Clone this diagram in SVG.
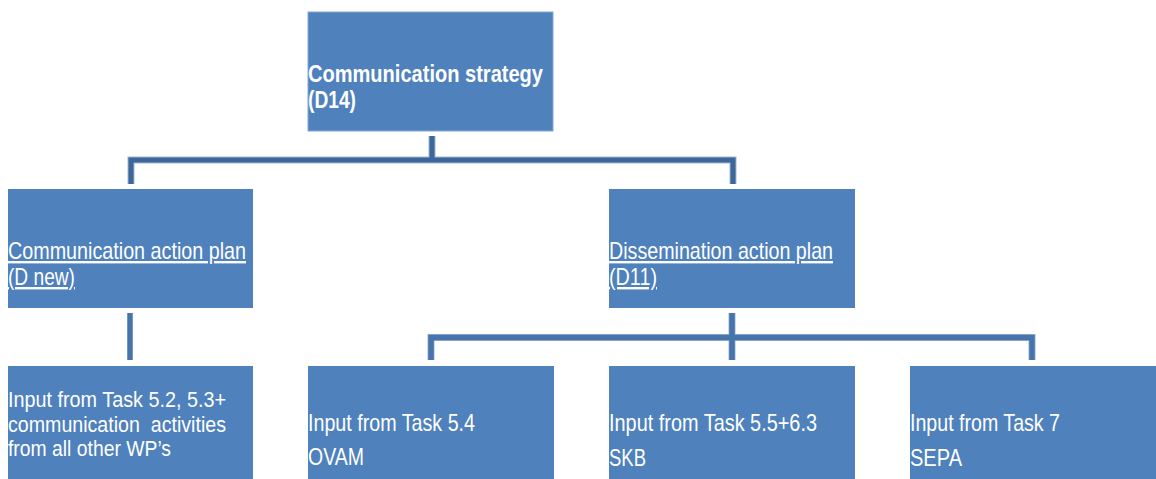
<svg xmlns="http://www.w3.org/2000/svg" width="1156" height="479" viewBox="0 0 1156 479">
<style>
.box{fill:#4f81bd}
.t{font-family:"Liberation Sans",Arial,sans-serif;font-size:24px;fill:#ffffff;white-space:pre}
.b{font-weight:bold}
.s{font-size:22px}
.u{text-decoration:underline}
.edge{fill:none;stroke:#9fb5d5;stroke-width:7}
.c1{fill:none;stroke:#3e6799;stroke-width:5}
.c2{fill:none;stroke:#4874ac;stroke-width:5.5}
</style>
<rect width="1156" height="479" fill="#ffffff"/>
<g id="connectors">
<path class="edge" d="M432,136V160M131,184V160H733V184"/>
<path class="c1" d="M432,136V160M131,184V160H733V184"/>
<path class="edge" d="M732,313V337.5M431,360V337.5H1032V360M732,337.5V360"/>
<path class="c2" d="M732,313V337.5M431,360V337.5H1032V360M732,337.5V360M130,313V360"/>
</g>
<g id="n-strategy">
<rect class="box" x="308" y="12" width="245" height="119" stroke="#86a6d0" stroke-width="1"/>
<text class="t b" x="308" y="82" textLength="235" lengthAdjust="spacingAndGlyphs">Communication strategy</text>
<text class="t b" x="308" y="108" textLength="48" lengthAdjust="spacingAndGlyphs">(D14)</text>
</g>
<g id="n-comm-plan">
<rect class="box" x="8" y="189" width="245" height="119"/>
<text class="t u" x="8" y="259" textLength="238" lengthAdjust="spacingAndGlyphs">Communication action plan</text>
<text class="t u" x="8" y="285" textLength="67" lengthAdjust="spacingAndGlyphs">(D new)</text>
</g>
<g id="n-diss-plan">
<rect class="box" x="609" y="189" width="246" height="119"/>
<text class="t u" x="609" y="259" textLength="224" lengthAdjust="spacingAndGlyphs">Dissemination action plan</text>
<text class="t u" x="609" y="285" textLength="48" lengthAdjust="spacingAndGlyphs">(D11)</text>
</g>
<g id="n-task52">
<rect class="box" x="8" y="366" width="245" height="113"/>
<text class="t s" x="8" y="406.5" textLength="218" lengthAdjust="spacingAndGlyphs">Input from Task 5.2, 5.3+</text>
<text class="t s" x="8" y="431.5" textLength="218" lengthAdjust="spacingAndGlyphs">communication  activities</text>
<text class="t s" x="8" y="455.5" textLength="163" lengthAdjust="spacingAndGlyphs">from all other WP’s</text>
</g>
<g id="n-task54">
<rect class="box" x="308" y="366" width="246" height="113"/>
<text class="t" x="308" y="430.5" textLength="167" lengthAdjust="spacingAndGlyphs">Input from Task 5.4</text>
<text class="t" x="308" y="465" textLength="56" lengthAdjust="spacingAndGlyphs">OVAM</text>
</g>
<g id="n-task55">
<rect class="box" x="609" y="366" width="246" height="113"/>
<text class="t" x="609" y="431" textLength="208" lengthAdjust="spacingAndGlyphs">Input from Task 5.5+6.3</text>
<text class="t" x="609" y="465.5" textLength="37" lengthAdjust="spacingAndGlyphs">SKB</text>
</g>
<g id="n-task7">
<rect class="box" x="910" y="366" width="246" height="113"/>
<text class="t" x="910" y="431" textLength="150" lengthAdjust="spacingAndGlyphs">Input from Task 7</text>
<text class="t" x="910" y="465.5" textLength="52" lengthAdjust="spacingAndGlyphs">SEPA</text>
</g>
</svg>
